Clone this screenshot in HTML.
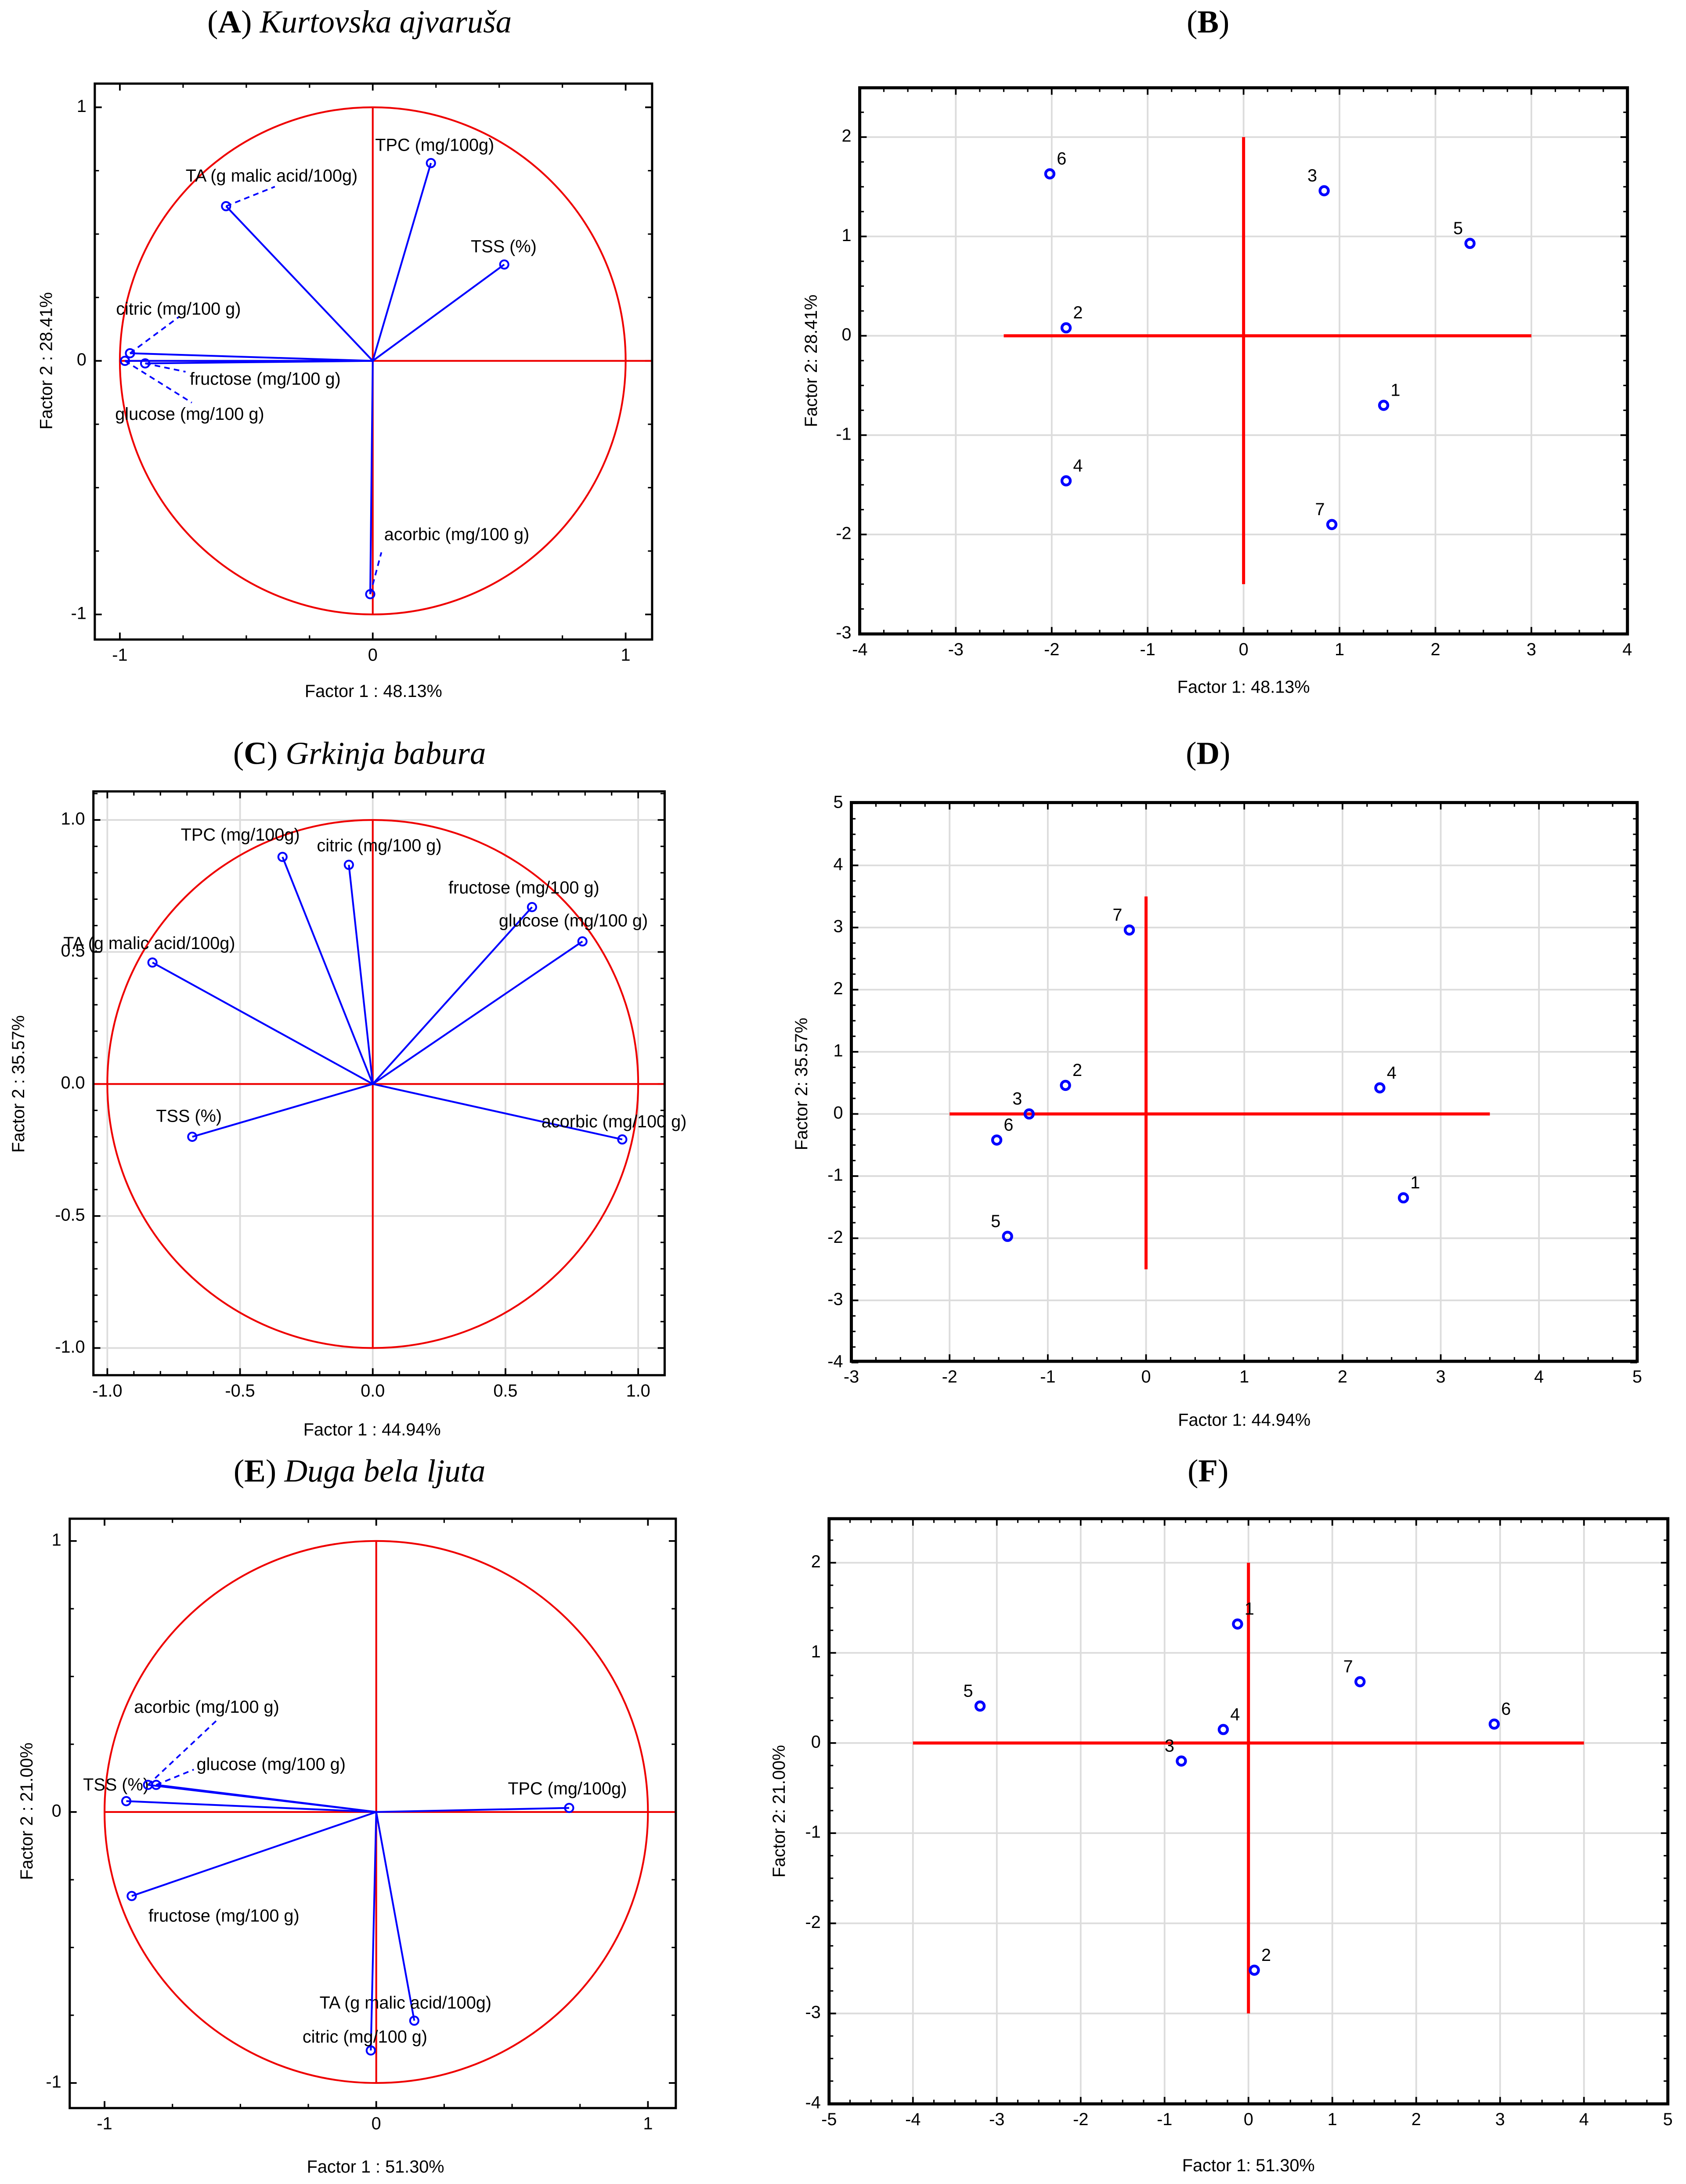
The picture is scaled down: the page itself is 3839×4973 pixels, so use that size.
<!DOCTYPE html>
<html><head><meta charset="utf-8"><style>
html,body{margin:0;padding:0;background:#fff;}
svg{display:block;}
text{font-family:"Liberation Sans",Arial,sans-serif;fill:#000;}
.ttl{font-family:"Liberation Serif","Times New Roman",serif;}
</style></head><body>
<svg id="fig" xmlns="http://www.w3.org/2000/svg" width="3839" height="4973" viewBox="0 0 1210 1567.5"></svg>
<script>
// ---- Panel A: loadings ----
const aVars = ["TPC (mg/100g)","TA (g malic acid/100g)","TSS (%)","citric (mg/100 g)","glucose (mg/100 g)","fructose (mg/100 g)","acorbic (mg/100 g)"];
const aF1 = [0.23,-0.58,0.52,-0.96,-0.98,-0.90,-0.01];
const aF2 = [0.78,0.61,0.38,0.03,0.00,-0.01,-0.92];
// ---- Panel B: scores ----
const bIds = ["1","2","3","4","5","6","7"];
const bF1 = [1.46,-1.85,0.84,-1.85,2.36,-2.02,0.92];
const bF2 = [-0.70,0.08,1.46,-1.46,0.93,1.63,-1.90];
// ---- Panel C: loadings ----
const cVars = ["TPC (mg/100g)","citric (mg/100 g)","fructose (mg/100 g)","glucose (mg/100 g)","TA (g malic acid/100g)","TSS (%)","acorbic (mg/100 g)"];
const cF1 = [-0.34,-0.09,0.60,0.79,-0.83,-0.68,0.94];
const cF2 = [0.86,0.83,0.67,0.54,0.46,-0.20,-0.21];
// ---- Panel D: scores ----
const dIds = ["1","2","3","4","5","6","7"];
const dF1 = [2.62,-0.82,-1.19,2.38,-1.41,-1.52,-0.17];
const dF2 = [-1.35,0.46,0.00,0.42,-1.97,-0.42,2.96];
// ---- Panel E: loadings ----
const eVars = ["TPC (mg/100g)","TSS (%)","acorbic (mg/100 g)","glucose (mg/100 g)","fructose (mg/100 g)","TA (g malic acid/100g)","citric (mg/100 g)"];
const eF1 = [0.71,-0.92,-0.84,-0.81,-0.90,0.14,-0.02];
const eF2 = [0.015,0.04,0.10,0.10,-0.31,-0.77,-0.88];
// ---- Panel F: scores ----
const fIds = ["1","2","3","4","5","6","7"];
const fF1 = [-0.13,0.07,-0.80,-0.30,-3.20,2.93,1.33];
const fF2 = [1.32,-2.52,-0.20,0.15,0.41,0.21,0.68];
// tick labels
const aTicks = ["-1","0","1"], aTickV = [-1,0,1];
const bXT = [-4,-3,-2,-1,0,1,2,3,4], bYT = [-3,-2,-1,0,1,2];
const cTickV = [-1,-0.5,0,0.5,1], cTicks = ["-1.0","-0.5","0.0","0.5","1.0"];
const dXT = [-3,-2,-1,0,1,2,3,4,5], dYT = [-4,-3,-2,-1,0,1,2,3,4,5];
const fXT = [-5,-4,-3,-2,-1,0,1,2,3,4,5], fYT = [-4,-3,-2,-1,0,1,2];

const NS="http://www.w3.org/2000/svg";
const svg=document.getElementById('fig');
function mk(tag,attrs,parent){const e=document.createElementNS(NS,tag);for(const k in attrs)e.setAttribute(k,attrs[k]);(parent||svg).appendChild(e);return e;}
function txt(s,x,y,size,anchor,parent,cls){const t=mk('text',{x:x,y:y,'font-size':size,'text-anchor':anchor||'start','dominant-baseline':'middle'},parent);if(cls)t.setAttribute('class',cls);t.textContent=s;return t;}

function title(letter,name,cx,cy,nm){
  const t=mk('text',{x:cx,y:cy,'font-size':23,'text-anchor':'middle','dominant-baseline':'middle',class:'ttl'});
  
  
  const s1=mk('tspan',{},t);s1.textContent='(';
  const s2=mk('tspan',{'font-weight':'bold'},t);s2.textContent=letter;
  const s3=mk('tspan',{},t);s3.textContent=')'+(name?' ':'');
  if(name){const s4=mk('tspan',{'font-style':'italic'},t);s4.textContent=name;}
}

function panel(cfg){
  const g=mk('g',{});
  
  
  const X=v=>cfg.x0+v*cfg.ux, Y=v=>cfg.y0-v*cfg.uy;
  const b=cfg.box;
  // grid
  if(cfg.gridX){
    cfg.gridX.forEach(v=>{const l=mk('line',{x1:X(v),x2:X(v),y1:b[1],y2:b[3],stroke:'#dcdcdc','stroke-width':1.2},g);
      });
    cfg.gridY.forEach(v=>{const l=mk('line',{x1:b[0],x2:b[2],y1:Y(v),y2:Y(v),stroke:'#dcdcdc','stroke-width':1.2},g);
      });
  }
  // minor ticks
  const mt=mk('g',{stroke:'#000','stroke-width':1},g);
  
  for(let v=Math.ceil((b[0]-cfg.x0)/cfg.ux/cfg.minor)*cfg.minor; X(v)<=b[2]; v+=cfg.minor){
    const xx=X(v); if(xx<b[0]+1||xx>b[2]-1)continue;
    mk('line',{x1:xx,x2:xx,y1:b[1],y2:b[1]+3},mt);mk('line',{x1:xx,x2:xx,y1:b[3],y2:b[3]-3},mt);
  }
  for(let v=Math.ceil((cfg.y0-b[3])/cfg.uy/cfg.minor)*cfg.minor; Y(v)>=b[1]; v+=cfg.minor){
    const yy=Y(v); if(yy<b[1]+1||yy>b[3]-1)continue;
    mk('line',{x1:b[0],x2:b[0]+3,y1:yy,y2:yy},mt);mk('line',{x1:b[2],x2:b[2]-3,y1:yy,y2:yy},mt);
  }
  // major ticks + labels
  cfg.xt.forEach((v,i)=>{const xx=X(v);mk('line',{x1:xx,x2:xx,y1:b[3],y2:b[3]-5,stroke:'#000','stroke-width':1.2},g);mk('line',{x1:xx,x2:xx,y1:b[1],y2:b[1]+5,stroke:'#000','stroke-width':1.2},g);
    const t=txt(cfg.xl[i],xx,b[3]+12,12.5,'middle',g);});
  cfg.yt.forEach((v,i)=>{const yy=Y(v);mk('line',{x1:b[0],x2:b[0]+5,y1:yy,y2:yy,stroke:'#000','stroke-width':1.2},g);mk('line',{x1:b[2],x2:b[2]-5,y1:yy,y2:yy,stroke:'#000','stroke-width':1.2},g);
    const t=txt(cfg.yl[i],b[0]-6,yy,12.5,'end',g);});
  // circle
  if(cfg.circle){const c=mk('ellipse',{cx:X(0),cy:Y(0),rx:cfg.ux,ry:cfg.uy,fill:'none',stroke:'#e00','stroke-width':1.3},g);
    }
  // red axes
  const h=mk('line',{x1:cfg.hx[0],x2:cfg.hx[1],y1:Y(0),y2:Y(0),stroke:cfg.circle?'#e00':'#f00','stroke-width':cfg.circle?1.3:2.2},g);
  
  const vv=mk('line',{x1:X(0),x2:X(0),y1:cfg.vy[0],y2:cfg.vy[1],stroke:cfg.circle?'#e00':'#f00','stroke-width':cfg.circle?1.3:2.2},g);
  
  // box
  const r=mk('rect',{x:b[0],y:b[1],width:b[2]-b[0],height:b[3]-b[1],fill:'none',stroke:'#000','stroke-width':cfg.circle?1.6:2.2},g);
  
  // series
  cfg.f1.forEach((v,i)=>{
    const px=X(v),py=Y(cfg.f2[i]);
    if(cfg.circle){
      const l=mk('line',{x1:X(0),y1:Y(0),x2:px,y2:py,stroke:'#00f','stroke-width':1.3},g);
      
    }
    const m=mk('circle',{cx:px,cy:py,r:3,fill:'none',stroke:'#00f','stroke-width':cfg.circle?1.3:2},g);
    
    
    const o=cfg.off[i];
    if(o[2]!==undefined){const d=mk('line',{x1:px,y1:py,x2:px+o[2],y2:py+o[3],stroke:'#00f','stroke-width':1.2,'stroke-dasharray':'4,3'},g);
      }
    const t=txt(cfg.labels[i],px+o[0],py+o[1],cfg.circle?12.5:12.5,'start',g);
    
  });
  // axis titles
  const xt=txt(cfg.xTitle,(b[0]+b[2])/2+cfg.xTitleDx,cfg.xTitleY,12.5,'middle',g);
  
  const yt=txt(cfg.yTitle,cfg.yTitleX,cfg.yTitleY,12.5,'middle',g);
  yt.setAttribute('transform','rotate(-90 '+cfg.yTitleX+' '+cfg.yTitleY+')');
  
}
const sc=[[5,-10],[5,-10],[5,-10],[5,-10],[5,-10],[5,-10],[5,-10]];
function scoreOff(sides){return sides.map(s=>s==='L'?[-12,-10]:[5,-10]);}

title('A','Kurtovska ajvaruša',258,18,'title-a');
panel({name:'panel-a-loadings',box:[68,60,468,459],x0:267.5,ux:181.5,y0:259,uy:182,minor:0.25,
  xt:aTickV,xl:aTicks,yt:aTickV,yl:aTicks,circle:true,hx:[86,468],vy:[77,441],
  f1:aF1,f2:aF2,labels:aVars,
  off:[[-40,-12],[-29,-21,35,-14],[-24,-12],[-10,-31,35,-26],[-7,39,48,30],[32,12,29,6],[10,-42,8,-30]],
  xTitle:'Factor 1 : 48.13%',xTitleDx:0,xTitleY:497,yTitle:'Factor 2 : 28.41%',yTitleX:34,yTitleY:259});
title('B','',867,18,'title-b');
panel({name:'panel-b-scores',box:[617,63,1168,455],x0:892.5,ux:68.85,y0:241,uy:71.3,minor:0.25,gridX:bXT,gridY:bYT,
  xt:bXT,xl:bXT.map(String),yt:bYT,yl:bYT.map(String),circle:false,hx:[892.5-2.5*68.85,892.5+3*68.85],vy:[241-2*71.3,241+2.5*71.3],
  f1:bF1,f2:bF2,labels:bIds,off:scoreOff(['R','R','L','R','L','R','L']),
  xTitle:'Factor 1: 48.13%',xTitleDx:0,xTitleY:494,yTitle:'Factor 2: 28.41%',yTitleX:583,yTitleY:259});
title('C','Grkinja babura',258,543,'title-c');
panel({name:'panel-c-loadings',box:[67,568,477,987],x0:267.5,ux:190.5,y0:778,uy:189.5,minor:0.1,gridX:cTickV,gridY:cTickV,
  xt:cTickV,xl:cTicks,yt:cTickV,yl:cTicks,circle:true,hx:[67,477],vy:[588,968],
  f1:cF1,f2:cF2,labels:cVars,
  off:[[-73,-15],[-23,-13],[-60,-13],[-60,-14],[-64,-13],[-26,-14],[-58,-12]],
  xTitle:'Factor 1 : 44.94%',xTitleDx:-5,xTitleY:1027,yTitle:'Factor 2 : 35.57%',yTitleX:14,yTitleY:778});
title('D','',867,543,'title-d');
panel({name:'panel-d-scores',box:[611,576,1175,977],x0:822.5,ux:70.5,y0:799.5,uy:44.6,minor:0.25,gridX:dXT,gridY:dYT,
  xt:dXT,xl:dXT.map(String),yt:dYT,yl:dYT.map(String),circle:false,hx:[822.5-2*70.5,822.5+3.5*70.5],vy:[799.5-3.5*44.6,799.5+2.5*44.6],
  f1:dF1,f2:dF2,labels:dIds,off:scoreOff(['R','R','L','R','L','R','L']),
  xTitle:'Factor 1: 44.94%',xTitleDx:0,xTitleY:1020,yTitle:'Factor 2: 35.57%',yTitleX:576,yTitleY:778});
title('E','Duga bela ljuta',258,1058,'title-e');
panel({name:'panel-e-loadings',box:[50,1090,485,1513],x0:270,ux:195,y0:1300.5,uy:194.5,minor:0.25,
  xt:aTickV,xl:aTicks,yt:aTickV,yl:aTicks,circle:true,hx:[75,485],vy:[1106,1495],
  f1:eF1,f2:eF2,labels:eVars,
  off:[[-44,-13],[-31,-11],[-10,-55,49,-46],[29,-14,27,-11],[12,15],[-68,-12],[-49,-9]],
  xTitle:'Factor 1 : 51.30%',xTitleDx:2,xTitleY:1556,yTitle:'Factor 2 : 21.00%',yTitleX:20,yTitleY:1300});
title('F','',867,1058,'title-f');
panel({name:'panel-f-scores',box:[595,1090,1197,1510],x0:896,ux:60.2,y0:1251,uy:64.7,minor:0.25,gridX:fXT,gridY:fYT,
  xt:fXT,xl:fXT.map(String),yt:fYT,yl:fYT.map(String),circle:false,hx:[896-4*60.2,896+4*60.2],vy:[1251-2*64.7,1251+3*64.7],
  f1:fF1,f2:fF2,labels:fIds,off:scoreOff(['R','R','L','R','L','R','L']),
  xTitle:'Factor 1: 51.30%',xTitleDx:0,xTitleY:1555,yTitle:'Factor 2: 21.00%',yTitleX:560,yTitleY:1300});
</script>
</body></html>
